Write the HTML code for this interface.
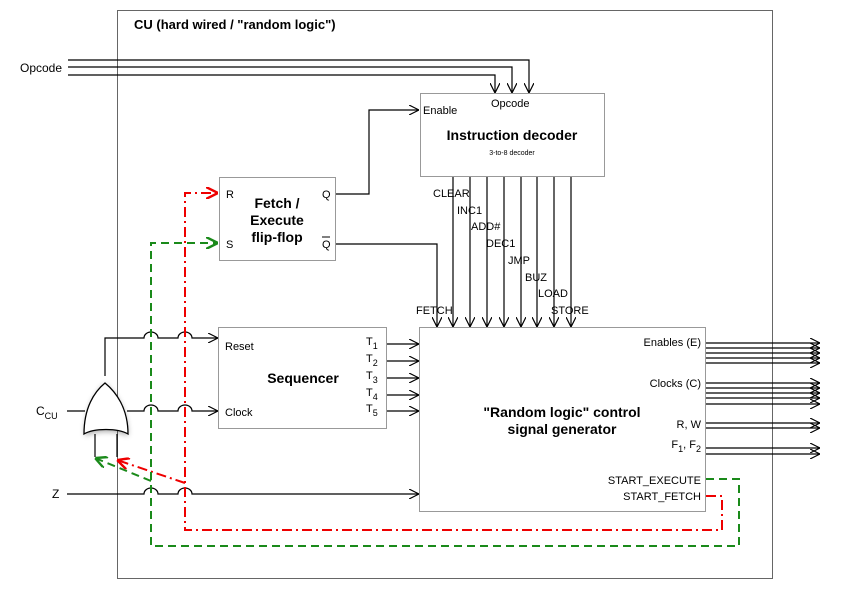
<!DOCTYPE html>
<html><head><meta charset="utf-8"><style>
html,body{margin:0;padding:0;background:#fff;width:850px;height:596px;overflow:hidden}
svg{display:block;font-family:"Liberation Sans",Arial,sans-serif}
</style></head><body>
<svg width="850" height="596" viewBox="0 0 850 596" xmlns="http://www.w3.org/2000/svg">
<defs>
<marker id="a" viewBox="0 0 10 10" refX="10" refY="5" markerWidth="10" markerHeight="10" markerUnits="userSpaceOnUse" orient="auto"><path d="M0,0 L10,5 L0,10" fill="none" stroke="#000" stroke-width="1.2"/></marker>
<marker id="ar" viewBox="0 0 10 10" refX="10" refY="5" markerWidth="12" markerHeight="12" markerUnits="userSpaceOnUse" orient="auto"><path d="M0,0 L10,5 L0,10" fill="none" stroke="#e00" stroke-width="2"/></marker>
<marker id="ag" viewBox="0 0 10 10" refX="10" refY="5" markerWidth="12" markerHeight="12" markerUnits="userSpaceOnUse" orient="auto"><path d="M0,0 L10,5 L0,10" fill="none" stroke="#1a8a1a" stroke-width="2"/></marker>
<filter id="sh" x="-50%" y="-50%" width="200%" height="200%"><feGaussianBlur stdDeviation="3"/></filter>
</defs>
<rect x="117.5" y="10.5" width="655" height="568" fill="none" stroke="#666" stroke-width="1"/>
<text x="134" y="29" font-size="13" font-weight="bold">CU (hard wired / "random logic")</text>

<text x="20" y="72" font-size="12">Opcode</text>
<g fill="none" stroke="#000" stroke-width="1.2">
<path d="M68,60 H529 V93" marker-end="url(#a)"/>
<path d="M68,67 H512 V93" marker-end="url(#a)"/>
<path d="M68,75 H495 V93" marker-end="url(#a)"/>
</g>

<rect x="420.5" y="93.5" width="184" height="83" fill="#fff" stroke="#999"/>
<text x="491" y="107" font-size="11">Opcode</text>
<text x="423" y="114" font-size="11">Enable</text>
<text x="512" y="140" font-size="14" font-weight="bold" text-anchor="middle">Instruction decoder</text>
<text x="512" y="155" font-size="7" text-anchor="middle">3-to-8 decoder</text>

<rect x="219.5" y="177.5" width="116" height="83" fill="#fff" stroke="#999"/>
<text x="226" y="198" font-size="11">R</text>
<text x="226" y="248" font-size="11">S</text>
<text x="322" y="198" font-size="11">Q</text>
<text x="322" y="248" font-size="11">Q</text>
<line x1="322" y1="237" x2="330" y2="237" stroke="#000" stroke-width="1"/>
<text x="277" y="208" font-size="14" font-weight="bold" text-anchor="middle">Fetch /</text>
<text x="277" y="225" font-size="14" font-weight="bold" text-anchor="middle">Execute</text>
<text x="277" y="242" font-size="14" font-weight="bold" text-anchor="middle">flip-flop</text>
<g fill="none" stroke="#000" stroke-width="1.2">
<path d="M336,194 H369 V110 H419" marker-end="url(#a)"/>
<path d="M336,244 H437 V327" marker-end="url(#a)"/>
<path d="M453,177 V327" marker-end="url(#a)"/>
<path d="M470,177 V327" marker-end="url(#a)"/>
<path d="M487,177 V327" marker-end="url(#a)"/>
<path d="M504,177 V327" marker-end="url(#a)"/>
<path d="M521,177 V327" marker-end="url(#a)"/>
<path d="M537,177 V327" marker-end="url(#a)"/>
<path d="M554,177 V327" marker-end="url(#a)"/>
<path d="M571,177 V327" marker-end="url(#a)"/>
</g>
<g font-size="11">
<text x="433" y="197">CLEAR</text>
<text x="457" y="214">INC1</text>
<text x="471" y="230">ADD#</text>
<text x="486" y="247">DEC1</text>
<text x="508" y="264">JMP</text>
<text x="525" y="281">BUZ</text>
<text x="538" y="297">LOAD</text>
<text x="416" y="314">FETCH</text>
<text x="551" y="314">STORE</text>
</g>

<rect x="218.5" y="327.5" width="168" height="101" fill="#fff" stroke="#999"/>
<text x="225" y="350" font-size="11">Reset</text>
<text x="225" y="416" font-size="11">Clock</text>
<text x="303" y="383" font-size="14" font-weight="bold" text-anchor="middle">Sequencer</text>
<g font-size="11">
<text x="366" y="345">T<tspan font-size="9" dy="4">1</tspan></text>
<text x="366" y="362">T<tspan font-size="9" dy="4">2</tspan></text>
<text x="366" y="379">T<tspan font-size="9" dy="4">3</tspan></text>
<text x="366" y="396">T<tspan font-size="9" dy="4">4</tspan></text>
<text x="366" y="412">T<tspan font-size="9" dy="4">5</tspan></text>
</g>
<g fill="none" stroke="#000" stroke-width="1.2">
<path d="M387,344 H419" marker-end="url(#a)"/>
<path d="M387,361 H419" marker-end="url(#a)"/>
<path d="M387,378 H419" marker-end="url(#a)"/>
<path d="M387,395 H419" marker-end="url(#a)"/>
<path d="M387,411 H419" marker-end="url(#a)"/>
</g>

<rect x="419.5" y="327.5" width="286" height="184" fill="#fff" stroke="#999"/>
<text x="562" y="417" font-size="14" font-weight="bold" text-anchor="middle">"Random logic" control</text>
<text x="562" y="434" font-size="14" font-weight="bold" text-anchor="middle">signal generator</text>
<g font-size="11" text-anchor="end">
<text x="701" y="346">Enables (E)</text>
<text x="701" y="387">Clocks (C)</text>
<text x="701" y="428">R, W</text>
<text x="701" y="448">F<tspan font-size="9" dy="4">1</tspan><tspan dy="-4">, F</tspan><tspan font-size="9" dy="4">2</tspan></text>
<text x="701" y="484">START_EXECUTE</text>
<text x="701" y="500">START_FETCH</text>
</g>
<g fill="none" stroke="#000" stroke-width="1.2">
<path d="M706,343 H820" marker-end="url(#a)"/>
<path d="M706,348 H820" marker-end="url(#a)"/>
<path d="M706,353 H820" marker-end="url(#a)"/>
<path d="M706,358 H820" marker-end="url(#a)"/>
<path d="M706,363 H820" marker-end="url(#a)"/>
<path d="M706,383 H820" marker-end="url(#a)"/>
<path d="M706,388 H820" marker-end="url(#a)"/>
<path d="M706,393 H820" marker-end="url(#a)"/>
<path d="M706,398 H820" marker-end="url(#a)"/>
<path d="M706,404 H820" marker-end="url(#a)"/>
<path d="M706,423 H820" marker-end="url(#a)"/>
<path d="M706,428 H820" marker-end="url(#a)"/>
<path d="M706,448 H820" marker-end="url(#a)"/>
<path d="M706,454 H820" marker-end="url(#a)"/>
</g>

<text x="36" y="415" font-size="12">C<tspan font-size="9" dy="4">CU</tspan></text>
<text x="52" y="498" font-size="12">Z</text>
<g fill="none" stroke="#000" stroke-width="1.2">
<path d="M105,376 V338 H144 a7,6 0 0 1 14,0 H178 a7,6 0 0 1 14,0 H218" marker-end="url(#a)"/>
<path d="M67,411 H85"/>
<path d="M127,411 H144 a7,6 0 0 1 14,0 H178 a7,6 0 0 1 14,0 H218" marker-end="url(#a)"/>
<path d="M67,494 H144 a7,6 0 0 1 14,0 H178 a7,6 0 0 1 14,0 H419" marker-end="url(#a)"/>
<path d="M95,434 V457 M117,434 V457"/>
</g>
<path d="M85,436 C85,410 95,394 105,384 C115,394 128,410 128,436 C118,430 95,430 85,436 Z" fill="#000" opacity="0.35" filter="url(#sh)"/>
<path d="M84,434 C84,408 94,392 105,383 C116,392 128,408 128,434 C118,428 94,428 84,434 Z" fill="#fff" stroke="#000" stroke-width="1.3"/>

<g fill="none" stroke="#e00" stroke-width="2" stroke-dasharray="10,4,2,4">
<path d="M706,496 H722 V530 H185 V193 H218" marker-end="url(#ar)"/>
<path d="M185,483 L117,460" marker-end="url(#ar)"/>
</g>
<g fill="none" stroke="#1a8a1a" stroke-width="2" stroke-dasharray="8,5">
<path d="M706,479 H739 V546 H151 V243 H218" marker-end="url(#ag)"/>
<path d="M151,481 L95,458" marker-end="url(#ag)"/>
</g>
</svg>
</body></html>
